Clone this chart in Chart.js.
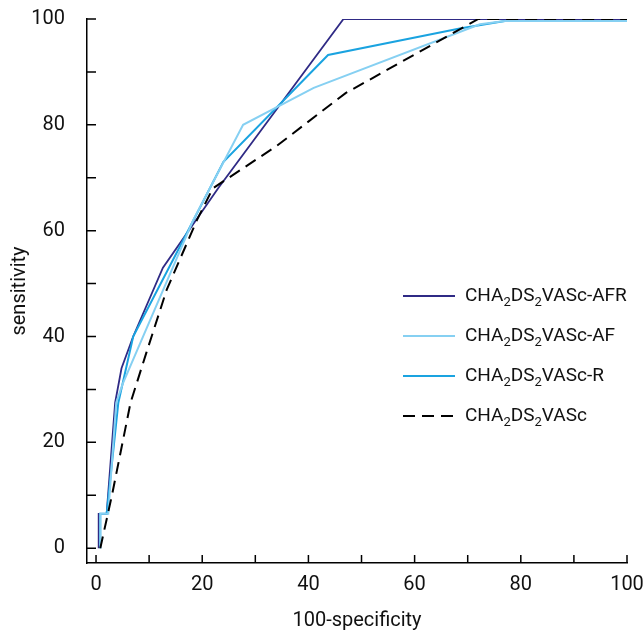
<!DOCTYPE html>
<html>
<head>
<meta charset="utf-8">
<script src="https://cdn.jsdelivr.net/npm/chart.js@4"></script>
<style>
  body { margin: 0; background: #fff; }
  #khung { position: relative; width: 644px; height: 632px; }
  #chu-giai { position: absolute; left: 403px; top: 276px; font-family: Roboto, sans-serif; font-size: 19px; color: #111; }
  .dong { height: 40px; display: flex; align-items: center; white-space: nowrap; }
  .dong svg { margin-right: 10px; }
  .dong sub { font-size: 13px; vertical-align: -5px; }
</style>
</head>
<body>
<div id="khung">
  <canvas id="bieu-do" width="644" height="632"></canvas>
  <div id="chu-giai"></div>
</div>
<script>
// du lieu ROC
const tenDuong = ["CHA₂DS₂VASc-AFR", "CHA₂DS₂VASc-AF", "CHA₂DS₂VASc-R", "CHA₂DS₂VASc"];
const tenHtml  = ["CHA<sub>2</sub>DS<sub>2</sub>VASc-AFR", "CHA<sub>2</sub>DS<sub>2</sub>VASc-AF",
                  "CHA<sub>2</sub>DS<sub>2</sub>VASc-R", "CHA<sub>2</sub>DS<sub>2</sub>VASc"];

const xAFR = [0.5, 0.5, 2, 3.6, 4.8, 7, 12.6, 23, 46.6, 100];
const yAFR = [0, 6.5, 6.5, 27.5, 34, 40, 53, 68, 100, 100];

const xAF = [0.8, 0.8, 2.3, 3.8, 5, 18.3, 27.7, 41, 72.3, 77, 100];
const yAF = [0, 6.5, 6.5, 27.5, 31, 62, 80, 87, 99, 99.6, 99.6];

const xR = [0.8, 0.8, 2, 4.2, 7, 15.8, 24, 43.7, 68.5, 77, 100];
const yR = [0, 6.5, 6.5, 27.5, 40, 57, 73, 93.2, 98.2, 99.6, 99.6];

const xGoc = [0.8, 3, 5, 6.5, 9.5, 13.3, 19, 22, 34, 47, 72, 100];
const yGoc = [0, 10, 20, 27.5, 37, 48.8, 62, 68, 76, 86, 100, 100];

const nhanTruc = [0, 20, 40, 60, 80, 100];
const vachNho  = [0, 10, 20, 30, 40, 50, 60, 70, 80, 90, 100];

const mau   = ["#2f2a85", "#86d0f2", "#1aa3e0", "#000000"];
const netDut = [[], [], [], [12, 7]];

function ghepDiem(xs, ys) {
    const kq = [];
    for (let i = 0; i < xs.length; i++) kq.push({ x: xs[i], y: ys[i] });
    return kq;
}

const phong = "Roboto, sans-serif";

// ve vach chia huong vao trong
const vachTrong = {
    id: "vachTrong",
    afterDraw(chart) {
        const ctx = chart.ctx;
        const sx = chart.scales.x, sy = chart.scales.y;
        const a = chart.chartArea;
        ctx.save();
        ctx.strokeStyle = "#000";
        ctx.lineWidth = 1.5;
        ctx.beginPath();
        for (const v of vachNho) {
            const px = sx.getPixelForValue(v);
            ctx.moveTo(px, a.bottom);
            ctx.lineTo(px, a.bottom - 8);
            const py = sy.getPixelForValue(v);
            ctx.moveTo(a.left, py);
            ctx.lineTo(a.left + 9, py);
        }
        ctx.stroke();
        ctx.restore();
    }
};

// thu tu: duong goc duoi cung, AFR tren cung
const thuTu = [3, 1, 2, 0];
const duLieuX = [xAFR, xAF, xR, xGoc];
const duLieuY = [yAFR, yAF, yR, yGoc];
const datasets = thuTu.map(i => ({
    label: tenDuong[i],
    data: ghepDiem(duLieuX[i], duLieuY[i]),
    borderColor: mau[i],
    borderWidth: i === 0 ? 1.8 : 2,
    borderDash: netDut[i],
    pointRadius: 0,
    tension: 0,
    fill: false
}));

new Chart(document.getElementById("bieu-do"), {
    type: "line",
    data: { datasets: datasets },
    options: {
        responsive: false,
        animation: false,
        layout: { padding: { top: 19, right: 17, left: 0, bottom: 0 } },
        plugins: { legend: { display: false }, tooltip: { enabled: false } },
        scales: {
            x: {
                type: "linear",
                min: -1.7,
                max: 100,
                grid: { display: false },
                border: { display: true, color: "#000", width: 1.5 },
                afterBuildTicks: s => { s.ticks = nhanTruc.map(v => ({ value: v })); },
                afterFit: s => { s.height = 69; s.paddingLeft = 0; s.paddingRight = 0; },
                ticks: { color: "#111", padding: 2, font: { family: phong, size: 20 } },
                title: { display: true, text: "100-specificity", color: "#111", padding: { top: 0, bottom: 1 },
                         font: { family: phong, size: 20, lineHeight: 1 } }
            },
            y: {
                type: "linear",
                min: -2.8,
                max: 100,
                grid: { display: false },
                border: { display: true, color: "#000", width: 1.5 },
                afterBuildTicks: s => { s.ticks = nhanTruc.map(v => ({ value: v })); },
                afterFit: s => { s.width = 87; s.paddingTop = 0; s.paddingBottom = 0; },
                ticks: { color: "#111", padding: 14, font: { family: phong, size: 20 } },
                title: { display: true, text: "sensitivity", color: "#111", padding: { top: 10, bottom: 0 },
                         font: { family: phong, size: 20, lineHeight: 1 } }
            }
        }
    },
    plugins: [vachTrong]
});

// chu giai
const khungChuGiai = document.getElementById("chu-giai");
for (let i = 0; i < tenDuong.length; i++) {
    const dong = document.createElement("div");
    dong.className = "dong";
    const dash = netDut[i].length ? `stroke-dasharray="${netDut[i].join(" ")}"` : "";
    dong.innerHTML = `<svg width="52" height="4"><line x1="0" y1="2" x2="52" y2="2" stroke="${mau[i]}" stroke-width="2" ${dash}/></svg><span>${tenHtml[i]}</span>`;
    khungChuGiai.appendChild(dong);
}
</script>
</body>
</html>
